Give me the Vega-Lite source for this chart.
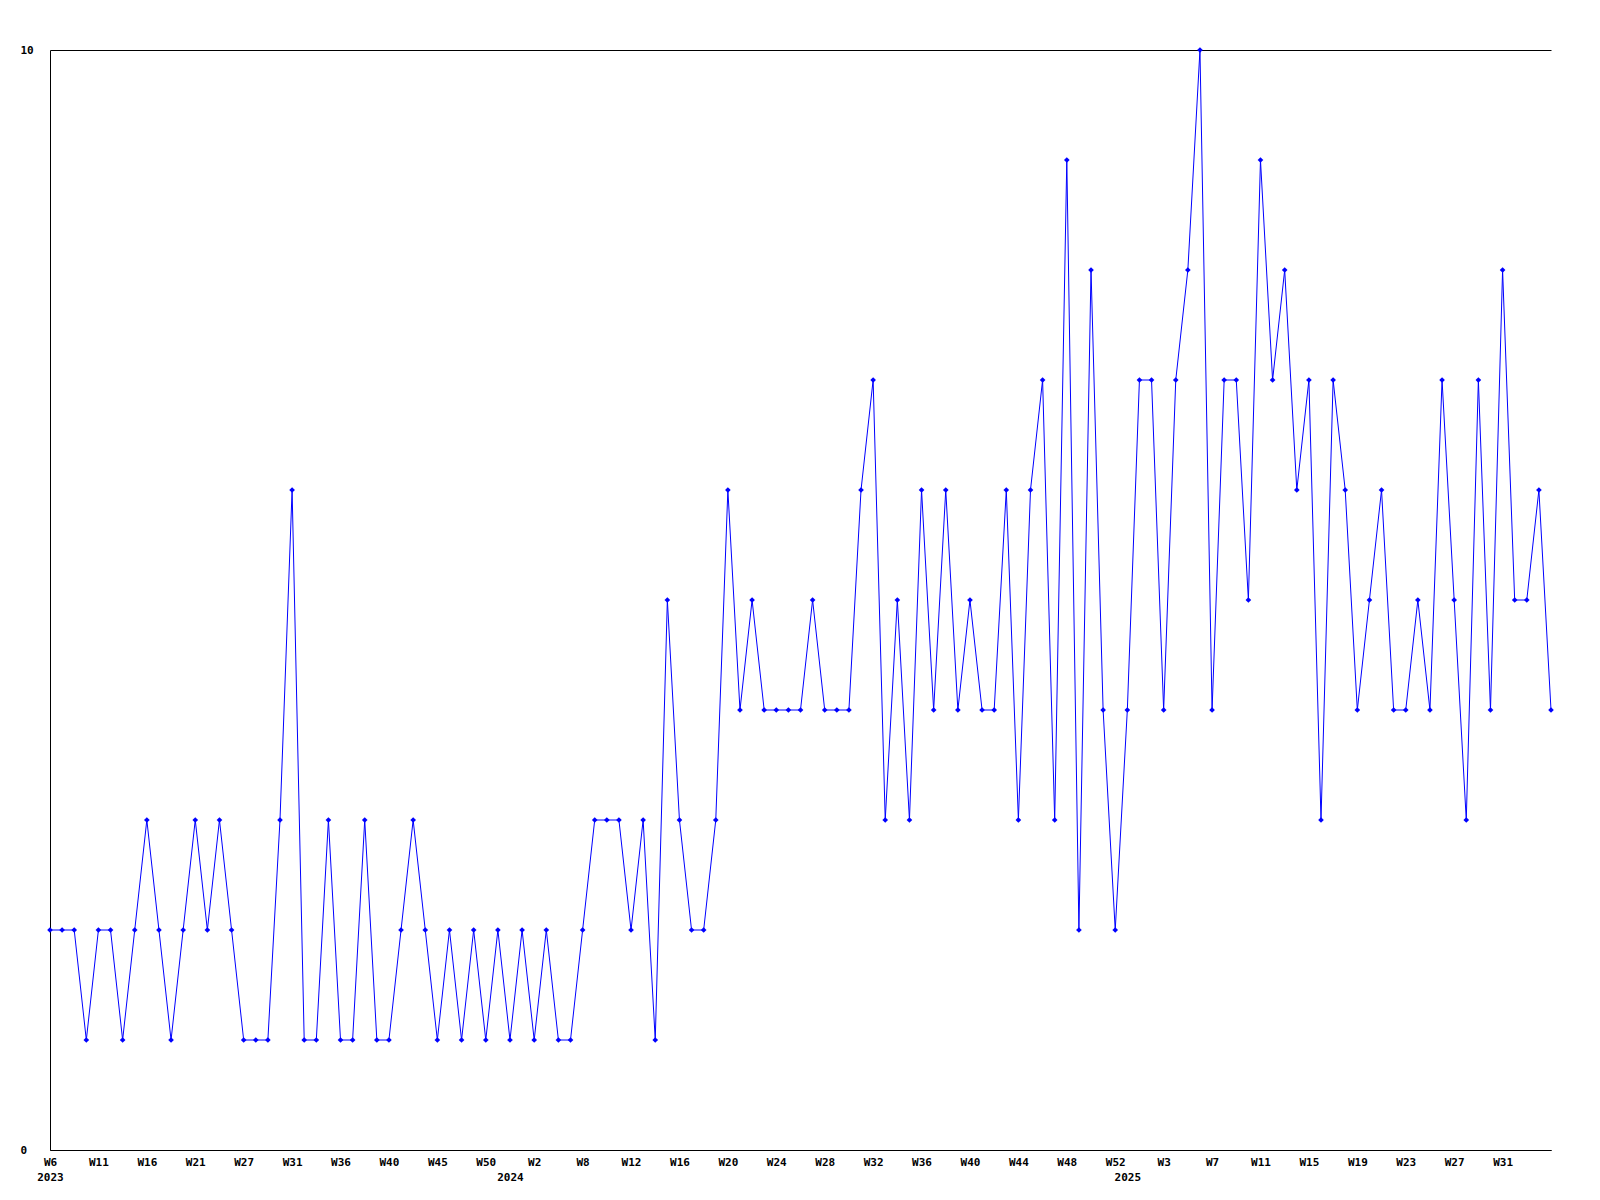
{
  "$schema": "https://vega.github.io/schema/vega-lite/v6.json",
  "width": 1501,
  "height": 1100,
  "autosize": {"type": "none"},
  "padding": {"left": 50, "top": 50, "right": 49, "bottom": 50},
  "background": "white",
  "config": {
    "view": {"stroke": null},
    "font": "DejaVu Sans Mono"
  },
  "data": {
    "values": [
      {"week": "2023-W06", "count": 2},
      {"week": "2023-W07", "count": 2},
      {"week": "2023-W08", "count": 2},
      {"week": "2023-W09", "count": 1},
      {"week": "2023-W11", "count": 2},
      {"week": "2023-W12", "count": 2},
      {"week": "2023-W13", "count": 1},
      {"week": "2023-W14", "count": 2},
      {"week": "2023-W16", "count": 3},
      {"week": "2023-W17", "count": 2},
      {"week": "2023-W18", "count": 1},
      {"week": "2023-W19", "count": 2},
      {"week": "2023-W21", "count": 3},
      {"week": "2023-W22", "count": 2},
      {"week": "2023-W23", "count": 3},
      {"week": "2023-W25", "count": 2},
      {"week": "2023-W27", "count": 1},
      {"week": "2023-W28", "count": 1},
      {"week": "2023-W29", "count": 1},
      {"week": "2023-W30", "count": 3},
      {"week": "2023-W31", "count": 6},
      {"week": "2023-W32", "count": 1},
      {"week": "2023-W33", "count": 1},
      {"week": "2023-W34", "count": 3},
      {"week": "2023-W36", "count": 1},
      {"week": "2023-W37", "count": 1},
      {"week": "2023-W38", "count": 3},
      {"week": "2023-W39", "count": 1},
      {"week": "2023-W40", "count": 1},
      {"week": "2023-W41", "count": 2},
      {"week": "2023-W42", "count": 3},
      {"week": "2023-W43", "count": 2},
      {"week": "2023-W45", "count": 1},
      {"week": "2023-W46", "count": 2},
      {"week": "2023-W47", "count": 1},
      {"week": "2023-W48", "count": 2},
      {"week": "2023-W50", "count": 1},
      {"week": "2023-W51", "count": 2},
      {"week": "2024-W00", "count": 1},
      {"week": "2024-W01", "count": 2},
      {"week": "2024-W02", "count": 1},
      {"week": "2024-W04", "count": 2},
      {"week": "2024-W05", "count": 1},
      {"week": "2024-W07", "count": 1},
      {"week": "2024-W08", "count": 2},
      {"week": "2024-W09", "count": 3},
      {"week": "2024-W10", "count": 3},
      {"week": "2024-W11", "count": 3},
      {"week": "2024-W12", "count": 2},
      {"week": "2024-W13", "count": 3},
      {"week": "2024-W14", "count": 1},
      {"week": "2024-W15", "count": 5},
      {"week": "2024-W16", "count": 3},
      {"week": "2024-W17", "count": 2},
      {"week": "2024-W18", "count": 2},
      {"week": "2024-W19", "count": 3},
      {"week": "2024-W20", "count": 6},
      {"week": "2024-W21", "count": 4},
      {"week": "2024-W22", "count": 5},
      {"week": "2024-W23", "count": 4},
      {"week": "2024-W24", "count": 4},
      {"week": "2024-W25", "count": 4},
      {"week": "2024-W26", "count": 4},
      {"week": "2024-W27", "count": 5},
      {"week": "2024-W28", "count": 4},
      {"week": "2024-W29", "count": 4},
      {"week": "2024-W30", "count": 4},
      {"week": "2024-W31", "count": 6},
      {"week": "2024-W32", "count": 7},
      {"week": "2024-W33", "count": 3},
      {"week": "2024-W34", "count": 5},
      {"week": "2024-W35", "count": 3},
      {"week": "2024-W36", "count": 6},
      {"week": "2024-W37", "count": 4},
      {"week": "2024-W38", "count": 6},
      {"week": "2024-W39", "count": 4},
      {"week": "2024-W40", "count": 5},
      {"week": "2024-W41", "count": 4},
      {"week": "2024-W42", "count": 4},
      {"week": "2024-W43", "count": 6},
      {"week": "2024-W44", "count": 3},
      {"week": "2024-W45", "count": 6},
      {"week": "2024-W46", "count": 7},
      {"week": "2024-W47", "count": 3},
      {"week": "2024-W48", "count": 9},
      {"week": "2024-W49", "count": 2},
      {"week": "2024-W50", "count": 8},
      {"week": "2024-W51", "count": 4},
      {"week": "2024-W52", "count": 2},
      {"week": "2025-W00", "count": 4},
      {"week": "2025-W01", "count": 7},
      {"week": "2025-W02", "count": 7},
      {"week": "2025-W03", "count": 4},
      {"week": "2025-W04", "count": 7},
      {"week": "2025-W05", "count": 8},
      {"week": "2025-W06", "count": 10},
      {"week": "2025-W07", "count": 4},
      {"week": "2025-W08", "count": 7},
      {"week": "2025-W09", "count": 7},
      {"week": "2025-W10", "count": 5},
      {"week": "2025-W11", "count": 9},
      {"week": "2025-W12", "count": 7},
      {"week": "2025-W13", "count": 8},
      {"week": "2025-W14", "count": 6},
      {"week": "2025-W15", "count": 7},
      {"week": "2025-W16", "count": 3},
      {"week": "2025-W17", "count": 7},
      {"week": "2025-W18", "count": 6},
      {"week": "2025-W19", "count": 4},
      {"week": "2025-W20", "count": 5},
      {"week": "2025-W21", "count": 6},
      {"week": "2025-W22", "count": 4},
      {"week": "2025-W23", "count": 4},
      {"week": "2025-W24", "count": 5},
      {"week": "2025-W25", "count": 4},
      {"week": "2025-W26", "count": 7},
      {"week": "2025-W27", "count": 5},
      {"week": "2025-W28", "count": 3},
      {"week": "2025-W29", "count": 7},
      {"week": "2025-W30", "count": 4},
      {"week": "2025-W31", "count": 8},
      {"week": "2025-W32", "count": 5},
      {"week": "2025-W33", "count": 5},
      {"week": "2025-W34", "count": 6},
      {"week": "2025-W35", "count": 4}
    ]
  },
  "encoding": {
    "x": {
      "field": "week",
      "type": "ordinal",
      "sort": null,
      "scale": {"type": "point", "padding": 0},
      "axis": {
        "title": null,
        "values": ["2023-W06", "2023-W11", "2023-W16", "2023-W21", "2023-W27", "2023-W31", "2023-W36", "2023-W40", "2023-W45", "2023-W50", "2024-W00", "2024-W02", "2024-W08", "2024-W12", "2024-W16", "2024-W20", "2024-W24", "2024-W28", "2024-W32", "2024-W36", "2024-W40", "2024-W44", "2024-W48", "2024-W52", "2025-W00", "2025-W03", "2025-W07", "2025-W11", "2025-W15", "2025-W19", "2025-W23", "2025-W27", "2025-W31"],
        "labelExpr": "datum.value == '2023-W06' ? ['W6', '2023'] : (datum.value == '2024-W00' ? ['', '2024'] : (datum.value == '2025-W00' ? ['', '2025'] : 'W' + toNumber(slice(datum.value, 6))))",
        "labelAngle": 0,
        "labelAlign": "center",
        "labelBaseline": "top",
        "labelPadding": 6,
        "labelLineHeight": 15,
        "labelFont": "DejaVu Sans Mono",
        "labelFontWeight": "bold",
        "labelFontSize": 11,
        "labelColor": "black",
        "labelOverlap": false,
        "labelBound": false,
        "labelFlush": false,
        "ticks": false,
        "tickSize": 0,
        "domainColor": "black",
        "domainWidth": 1,
        "grid": false
      }
    },
    "y": {
      "field": "count",
      "type": "quantitative",
      "scale": {"domain": [0, 10], "nice": false, "zero": true},
      "axis": {
        "title": null,
        "values": [0, 10],
        "labelAlign": "left",
        "labelBaseline": "middle",
        "labelPadding": 30,
        "labelFont": "DejaVu Sans Mono",
        "labelFontWeight": "bold",
        "labelFontSize": 11,
        "labelColor": "black",
        "labelFlush": false,
        "ticks": false,
        "tickSize": 0,
        "domainColor": "black",
        "domainWidth": 1,
        "grid": true,
        "gridColor": "black",
        "gridWidth": 1,
        "gridOpacity": 1
      }
    }
  },
  "layer": [
    {"mark": {"type": "line", "color": "#0000ff", "strokeWidth": 1}},
    {"mark": {"type": "point", "shape": "diamond", "filled": true, "color": "#0000ff", "size": 32, "opacity": 1}}
  ]
}
